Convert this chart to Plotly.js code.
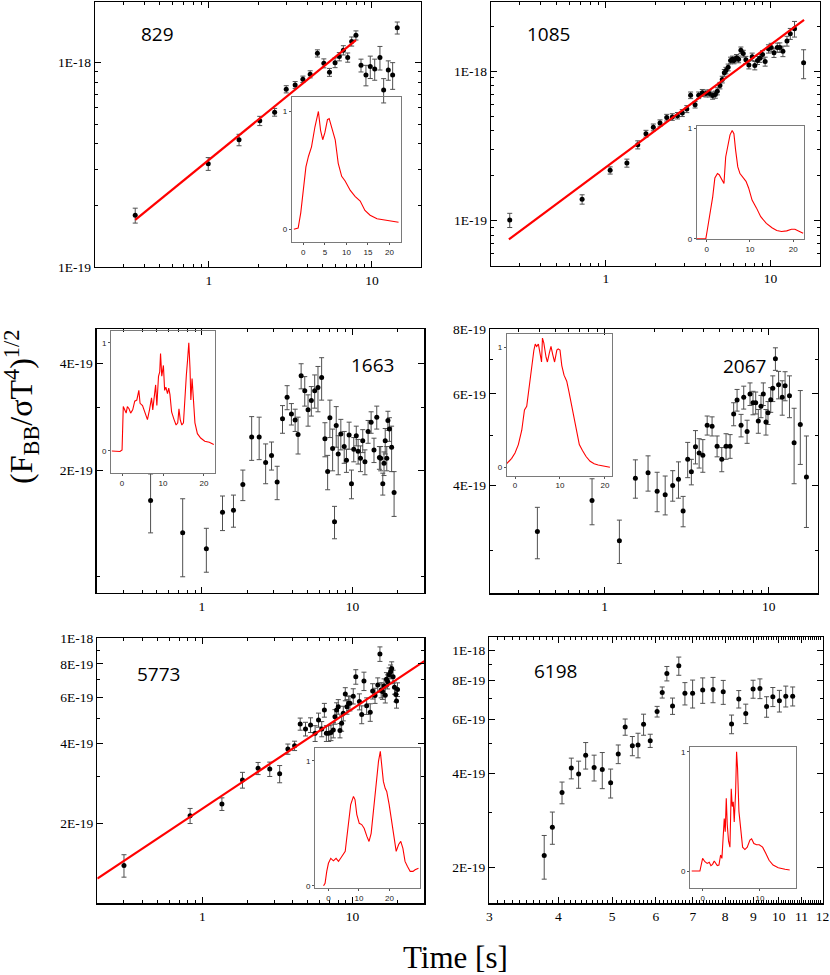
<!DOCTYPE html>
<html>
<head>
<meta charset="utf-8">
<script src="https://cdn.plot.ly/plotly-3.0.1.min.js"></script>
<style>html,body{margin:0;padding:0;background:#fff;}#chart{width:830px;height:975px;}</style>
</head>
<body>
<div id="chart"></div>
<script>
// ---- DATA (flux values in units of 1E-19) ----
const UNIT = 1e-19;
const labels = ["829", "1085", "1663", "2067", "5773", "6198"];

// 829
const t1 = [0.353,0.99,1.53,2.05,2.53,2.98,3.38,3.77,4.18,4.63,5.07,5.49,5.94,6.31,6.68,7.10,7.51,7.98,8.57,9.19,9.77,10.4,11.2,11.8,12.6,13.4,14.3];
const f1 = [1.79,3.20,4.19,5.19,5.72,7.41,7.78,8.29,8.77,11.1,9.93,8.97,10.0,10.7,11.5,10.6,12.7,13.6,9.7,8.7,9.56,9.3,10.6,7.35,9.2,8.7,14.8];
const e1 = [0.15,0.23,0.27,0.27,0.25,0.30,0.30,0.30,0.35,0.45,0.50,0.40,0.55,0.50,0.60,0.55,0.65,0.70,0.70,1.0,1.2,1.1,1.4,1.0,1.0,1.3,1.0];
const fitT1 = [0.353, 7.98];
const fitF1 = [1.70, 12.9];

// 1085
const t2 = [0.26,0.716,1.06,1.34,1.56,1.75,1.94,2.13,2.34,2.53,2.72,2.91,3.10,3.27,3.48,3.66,3.85,4.05,4.25,4.45,4.62,4.75,4.93,5.09,5.24,5.36,5.53,5.72,5.88,6.00,6.22,6.40,6.61,6.83,7.09,7.39,7.74,8.03,8.34,8.62,8.95,9.28,9.72,10.1,10.5,11.0,11.4,11.9,12.6,13.2,14.0,15.9];
const f2 = [1.01,1.39,2.17,2.43,3.22,3.82,4.21,4.50,4.89,4.94,5.04,5.25,5.58,6.90,5.97,6.90,7.16,7.10,7.10,6.87,6.97,7.34,8.01,8.79,9.75,10.1,10.6,11.8,12.0,11.8,12.3,12.0,13.8,13.1,11.9,11.0,12.5,10.9,11.8,12.2,12.9,11.6,14.1,14.4,13.3,14.4,14.4,13.6,15.9,17.8,19.2,11.4];
const e2 = [0.11,0.10,0.12,0.15,0.20,0.20,0.22,0.22,0.25,0.25,0.25,0.28,0.30,0.35,0.30,0.35,0.38,0.38,0.38,0.38,0.38,0.40,0.40,0.45,0.50,0.50,0.55,0.60,0.60,0.60,0.62,0.62,0.70,0.68,0.65,0.65,0.70,0.70,0.72,0.75,0.80,0.80,0.90,0.95,0.95,1.0,1.05,1.1,1.2,1.5,2.3,2.5];
const fitT2 = [0.257, 16.0];
const fitF2 = [0.75, 22.0];

// 1663
const t3 = [0.456,0.745,1.07,1.37,1.62,1.87,2.14,2.40,2.65,2.90,3.16,3.43,3.68,3.93,4.16,4.35,4.56,4.82,5.07,5.33,5.61,5.90,6.24,6.56,6.84,7.08,7.38,7.60,7.80,8.04,8.37,8.81,9.12,9.50,9.85,10.2,10.6,10.9,11.3,11.7,12.1,12.7,13.3,13.9,14.5,15.1,15.4,15.9,16.2,16.5,16.9,17.2,17.6,18.2,18.9];
const f3 = [1.64,1.33,1.20,1.52,1.54,1.82,2.48,2.48,2.10,2.20,1.85,2.79,3.21,2.88,2.77,2.52,3.69,3.35,2.96,3.14,3.35,3.42,3.65,2.45,1.98,2.81,2.30,1.43,2.67,2.22,2.53,2.33,2.13,2.51,1.83,2.29,2.50,2.26,2.16,2.42,2.11,2.57,2.73,2.28,2.82,2.17,2.16,1.83,2.09,2.42,2.16,2.76,2.61,2.32,1.73];
const e3 = [0.31,0.33,0.17,0.17,0.16,0.18,0.35,0.34,0.27,0.20,0.20,0.25,0.25,0.20,0.20,0.30,0.30,0.32,0.30,0.30,0.36,0.50,0.50,0.27,0.22,0.34,0.31,0.15,0.35,0.28,0.25,0.24,0.16,0.22,0.17,0.18,0.16,0.18,0.18,0.18,0.17,0.19,0.19,0.18,0.21,0.16,0.17,0.13,0.16,0.20,0.17,0.17,0.20,0.34,0.25];

// 2067
const t4 = [0.389,0.838,1.23,1.54,1.84,2.09,2.34,2.60,2.82,3.01,3.21,3.38,3.58,3.77,3.97,4.22,4.52,4.85,5.18,5.50,5.82,6.12,6.42,6.79,7.05,7.39,7.70,8.03,8.34,8.65,8.98,9.28,9.63,9.91,10.3,10.6,11.0,11.5,12.1,12.6,13.4,14.3,15.6,17.0];
const f4 = [3.26,3.74,3.13,4.13,4.23,3.90,3.84,4.00,4.11,3.57,4.49,4.25,4.75,4.62,4.57,5.22,5.20,4.76,4.49,4.76,4.76,5.49,5.84,5.22,5.91,5.08,6.00,5.77,5.77,5.32,5.68,6.00,5.30,5.52,5.85,6.15,7.01,6.25,5.91,6.22,5.95,4.83,5.24,4.15];
const e4 = [0.37,0.38,0.30,0.35,0.33,0.34,0.33,0.27,0.33,0.24,0.35,0.24,0.35,0.30,0.33,0.22,0.22,0.22,0.24,0.27,0.25,0.28,0.28,0.26,0.30,0.26,0.30,0.30,0.28,0.28,0.28,0.30,0.30,0.28,0.32,0.35,0.35,0.38,0.45,0.40,0.55,0.80,0.85,0.83];

// 5773
const t5 = [0.301,0.829,1.35,1.85,2.35,2.81,3.27,3.71,4.11,4.48,4.86,5.25,5.63,5.93,6.23,6.49,6.69,6.93,7.18,7.44,7.63,7.83,8.03,8.24,8.45,8.67,8.94,9.17,9.41,9.60,10.1,10.5,11.1,11.5,11.9,12.4,13.1,13.6,14.1,14.7,15.2,15.5,15.8,16.2,16.5,16.8,17.1,17.5,17.9,18.2,18.6,19.0,19.4,19.6,19.9];
const f5 = [1.39,2.14,2.37,2.92,3.23,3.21,3.08,3.82,3.93,4.75,4.55,4.71,4.38,4.92,4.55,5.36,4.38,4.38,4.41,4.51,5.06,5.36,5.52,4.49,4.78,5.21,6.16,5.52,5.69,5.69,6.05,7.16,5.77,5.16,6.90,5.56,5.26,6.32,6.08,6.67,8.73,6.38,6.30,6.61,6.10,7.00,6.86,7.28,7.48,7.70,7.16,6.53,6.14,5.80,6.41];
const e5 = [0.135,0.14,0.13,0.20,0.17,0.20,0.23,0.17,0.16,0.25,0.27,0.30,0.30,0.30,0.30,0.32,0.30,0.30,0.30,0.30,0.32,0.35,0.35,0.28,0.32,0.33,0.35,0.35,0.35,0.37,0.40,0.45,0.40,0.40,0.55,0.40,0.40,0.42,0.40,0.42,0.55,0.42,0.42,0.42,0.40,0.42,0.42,0.45,0.45,0.45,0.42,0.38,0.38,0.35,0.38];
const fitT5 = [0.2, 30];
const fitF5 = [1.24, 8.2];

// 6198
const t6 = [3.77,3.90,4.06,4.22,4.35,4.48,4.64,4.80,4.97,5.13,5.28,5.44,5.57,5.70,5.86,6.03,6.16,6.28,6.43,6.60,6.77,6.99,7.29,7.61,7.94,8.22,8.47,8.72,8.99,9.25,9.51,9.76,10.03,10.3,10.6];
const f6 = [2.18,2.69,3.48,4.17,3.99,4.59,4.19,4.13,3.74,4.63,5.66,4.92,4.95,5.77,5.11,6.34,7.31,8.41,6.61,8.90,7.26,7.26,7.44,7.47,7.34,5.78,6.96,6.25,7.50,7.53,6.58,7.08,6.87,7.11,7.11];
const e6 = [0.35,0.32,0.28,0.32,0.40,0.45,0.40,0.55,0.40,0.32,0.34,0.35,0.45,0.45,0.25,0.25,0.30,0.45,0.40,0.60,0.60,0.75,0.70,0.70,0.65,0.40,0.45,0.45,0.50,0.55,0.50,0.50,0.55,0.55,0.50];

// Inset light curves (time [s], normalized rate)
const lc1t = [-2.2,-1.2,-0.6,0,0.6,1.2,1.9,2.7,3.5,4.0,4.5,5.0,5.6,6.0,6.6,7.4,8.1,8.9,9.7,10.9,12.0,13.2,14.3,15.5,17.1,18.6,20.2,22.1];
const lc1y = [0,0.01,0.14,0.36,0.53,0.62,0.70,0.87,1.0,0.84,0.76,0.82,0.93,0.94,0.87,0.76,0.56,0.45,0.41,0.33,0.28,0.24,0.16,0.12,0.09,0.08,0.07,0.06];
const lc2t = [-2.3,-0.2,0.15,0.77,1.4,1.9,2.5,2.9,3.5,4.0,4.4,4.9,5.4,5.9,6.3,6.7,7.2,7.7,8.5,9.1,9.7,10.5,11.5,12.5,13.8,15.1,16.2,17.3,18.5,19.6,20.4,21.5,22.3];
const lc2y = [0,0,0.08,0.23,0.38,0.55,0.59,0.58,0.53,0.50,0.74,0.83,0.94,0.98,0.95,0.80,0.65,0.59,0.55,0.52,0.46,0.35,0.28,0.20,0.14,0.10,0.075,0.066,0.072,0.087,0.087,0.066,0.05];
const lc3t = [-2.5,-0.5,0,0.3,0.65,1.0,1.3,1.7,2.1,2.6,3.1,3.6,4.1,4.4,5.0,5.6,6.2,6.7,7.2,7.5,7.9,8.2,8.5,8.9,9.2,9.4,9.7,10.1,10.4,10.7,11.1,11.4,11.7,12.1,12.7,13.2,13.6,13.9,14.2,14.6,15.0,15.4,15.7,16.0,16.3,16.6,16.8,17.1,17.4,17.8,18.4,19.2,20.2,21.3,22.4];
const lc3y = [0,-0.005,0.01,0.41,0.38,0.35,0.41,0.39,0.35,0.38,0.46,0.47,0.56,0.44,0.42,0.36,0.29,0.38,0.49,0.38,0.51,0.61,0.42,0.69,0.73,0.90,0.69,0.79,0.56,0.59,0.53,0.58,0.52,0.36,0.29,0.24,0.26,0.39,0.29,0.24,0.26,0.56,0.70,0.84,1.0,0.76,0.47,0.67,0.44,0.26,0.16,0.12,0.09,0.08,0.06];
const lc4t = [-1.85,-1.26,-0.74,0,0.74,1.5,2.1,2.6,3.2,3.7,4.2,4.5,4.8,5.2,5.6,5.9,6.1,6.4,6.9,7.2,7.6,8.0,8.4,8.8,9.3,9.6,10.0,10.4,10.9,11.5,12.0,12.6,13.1,13.7,14.3,15.0,15.8,16.7,17.6,18.5,19.6,21.1];
const lc4y = [0.03,0.05,0.075,0.12,0.19,0.31,0.48,0.51,0.70,0.87,0.98,1.03,1.01,1.03,0.95,0.88,1.08,1.04,0.92,0.88,0.95,1.01,0.94,0.88,0.98,0.99,0.98,0.85,0.77,0.72,0.63,0.51,0.40,0.28,0.19,0.14,0.09,0.05,0.03,0.02,0.01,0.0];
const lc5t = [-1.6,-1.1,-0.55,0,0.77,1.64,2.5,3.3,4.0,4.9,5.5,6.0,6.6,7.3,8.2,8.7,9.3,10.1,10.9,11.7,12.6,13.3,14.0,14.5,15.1,15.6,16.4,17.0,17.4,18.0,18.6,19.1,19.9,20.8,21.5,22.2,23.0,23.7,24.4,25.1,25.9,26.8,27.7,28.4,29.5];
const lc5y = [0,0.02,0.115,0.18,0.22,0.20,0.22,0.195,0.22,0.25,0.275,0.38,0.51,0.65,0.715,0.69,0.57,0.50,0.49,0.46,0.395,0.355,0.42,0.54,0.70,0.86,0.995,1.075,0.97,0.835,0.78,0.755,0.65,0.49,0.38,0.275,0.33,0.355,0.30,0.195,0.155,0.115,0.115,0.128,0.14];
const lc6t = [-1.9,-0.47,0,0.4,0.8,1.16,1.45,1.74,2.03,2.27,2.56,2.85,3.14,3.37,3.6,3.78,3.95,4.13,4.3,4.53,4.77,5.0,5.17,5.35,5.52,5.76,5.93,6.1,6.34,6.63,6.98,7.38,7.79,8.26,8.55,8.95,9.42,9.88,10.47,11.0,11.6,12.3,13.2,14.4,15.2];
const lc6y = [0,0,0.106,0.078,0.064,0.073,0.045,0.056,0.084,0.064,0.045,0.05,0.134,0.106,0.27,0.44,0.33,0.61,0.39,0.25,0.20,0.69,0.54,0.58,0.41,0.66,1.0,0.86,0.50,0.33,0.20,0.18,0.20,0.26,0.27,0.23,0.22,0.22,0.20,0.15,0.09,0.05,0.028,0.014,0.008];

// Tick labels
const xTickVals = [1, 10];
const xTickText = ["1", "10"];
const x6TickVals = [3,4,5,6,7,8,9,10,11,12];
const x6TickText = ["3","4","5","6","7","8","9","10","11","12"];
const yTicks1 = {vals:[1e-19,1e-18], text:["1E-19","1E-18"]};
const yTicks2 = {vals:[1e-19,1e-18], text:["1E-19","1E-18"]};
const yTicks3 = {vals:[2e-19,4e-19], text:["2E-19","4E-19"]};
const yTicks4 = {vals:[4e-19,6e-19,8e-19], text:["4E-19","6E-19","8E-19"]};
const yTicks5 = {vals:[2e-19,4e-19,6e-19,8e-19,1e-18], text:["2E-19","4E-19","6E-19","8E-19","1E-18"]};
const yTicks6 = {vals:[2e-19,4e-19,6e-19,8e-19,1e-18], text:["2E-19","4E-19","6E-19","8E-19","1E-18"]};

// ---- LAYOUT HELPERS ----
const W = 830, H = 975;
const dx = (a, b) => [a / W, b / W];
const dy = (a, b) => [1 - b / H, 1 - a / H];

const yMinor = [];
for (let d = -21; d <= -16; d++) for (let m = 1; m <= 9; m++) yMinor.push(m * Math.pow(10, d));
const xMinor = [];
for (let d = -1; d <= 1; d++) for (let m = 1; m <= 9; m++) xMinor.push(m * Math.pow(10, d));
const x6Minor = [];
for (let i = 30; i <= 120; i++) x6Minor.push(i / 10);

const tickFont = {family: "Liberation Serif", size: 13.5, color: "black"};
function mainAxis(dom, range, tv, tt, minorVals, anchor) {
  return {
    type: "log", domain: dom, range: range, anchor: anchor,
    showline: true, linecolor: "black", linewidth: 1.3, mirror: "allticks",
    ticks: "inside", ticklen: 6, tickwidth: 1, tickcolor: "black",
    tickmode: "array", tickvals: tv, ticktext: tt,
    minor: {ticks: "inside", ticklen: 3, tickwidth: 1, tickcolor: "black", tickvals: minorVals},
    showgrid: false, zeroline: false, tickfont: tickFont
  };
}
const insetFont = {family: "Liberation Sans", size: 8, color: "#222"};
function insetAxis(dom, range, tv, anchor) {
  return {
    type: "linear", domain: dom, range: range, anchor: anchor,
    showline: true, linecolor: "#7a7a7a", linewidth: 1, mirror: true,
    ticks: "outside", ticklen: 2, tickwidth: 1, tickcolor: "#555",
    tickmode: "array", tickvals: tv, ticktext: tv.map(String),
    showgrid: false, zeroline: false, tickfont: insetFont
  };
}

const L = Math.log10;
const layout = {
  width: W, height: H, margin: {l: 0, r: 0, t: 0, b: 0},
  paper_bgcolor: "white", plot_bgcolor: "rgba(0,0,0,0)", showlegend: false,
  font: {family: "Liberation Serif", color: "black"},
  // main panels
  xaxis:  mainAxis(dx(95, 421),   [L(0.2), L(20)], xTickVals, xTickText, xMinor, "y"),
  yaxis:  mainAxis(dy(2, 267),    [L(1e-19), L(1.98e-18)], yTicks1.vals, yTicks1.text, yMinor, "x"),
  xaxis2: mainAxis(dx(491, 820),  [L(0.2), L(20)], xTickVals, xTickText, xMinor, "y2"),
  yaxis2: mainAxis(dy(2, 265.7),  [L(5e-20), L(2.9e-18)], yTicks2.vals, yTicks2.text, yMinor, "x2"),
  xaxis3: mainAxis(dx(96.7, 424.3), [L(0.2), L(30)], xTickVals, xTickText, xMinor, "y3"),
  yaxis3: mainAxis(dy(329, 593),  [L(9.0e-20), L(5e-19)], yTicks3.vals, yTicks3.text, yMinor, "x3"),
  xaxis4: mainAxis(dx(490, 818),  [L(0.2), L(20)], xTickVals, xTickText, xMinor, "y4"),
  yaxis4: mainAxis(dy(329, 593.3), [L(2.48e-19), L(8e-19)], yTicks4.vals, yTicks4.text, yMinor, "x4"),
  xaxis5: mainAxis(dx(97.3, 424.3), [L(0.2), L(30)], xTickVals, xTickText, xMinor, "y5"),
  yaxis5: mainAxis(dy(638.3, 903.3), [L(1e-19), L(1e-18)], yTicks5.vals, yTicks5.text, yMinor, "x5"),
  xaxis6: mainAxis(dx(489.3, 822.5), [L(3), L(12)], x6TickVals, x6TickText, x6Minor, "y6"),
  yaxis6: mainAxis(dy(637.3, 903.3), [L(1.53e-19), L(1.1e-18)], yTicks6.vals, yTicks6.text, yMinor, "x6"),
  // insets
  xaxis7:  insetAxis(dx(291.7, 400.7), [-2.7, 22.6], [0,5,10,15,20], "y7"),
  yaxis7:  insetAxis(dy(97.3, 242.3),  [-0.11, 1.12], [0,1], "x7"),
  xaxis8:  insetAxis(dx(696.7, 804),   [-2.3, 22.5], [0,10,20], "y8"),
  yaxis8:  insetAxis(dy(126, 239.3),   [-0.004, 1.02], [0,1], "x8"),
  xaxis9:  insetAxis(dx(111, 215),     [-2.7, 22.7], [0,10,20], "y9"),
  yaxis9:  insetAxis(dy(331, 473.3),   [-0.206, 1.108], [0,1], "x9"),
  xaxis10: insetAxis(dx(506.7, 611.7), [-1.85, 21.5], [0,10,20], "y10"),
  yaxis10: insetAxis(dy(334, 475.7),   [-0.07, 1.114], [0,1], "x10"),
  xaxis11: insetAxis(dx(315, 420),     [-4.4, 30], [0,10,20], "y11"),
  yaxis11: insetAxis(dy(748.3, 888.3), [-0.02, 1.10], [0,1], "x11"),
  xaxis12: insetAxis(dx(690, 796),     [-2.2, 16.3], [0,10], "y12"),
  yaxis12: insetAxis(dy(746.7, 888.3), [-0.145, 1.042], [0,1], "x12"),
  annotations: [
    {text: labels[0], x: 157.5 / W, y: 1 - 34 / H},
    {text: labels[1], x: 548.5 / W, y: 1 - 34.5 / H},
    {text: labels[2], x: 372 / W, y: 1 - 365 / H},
    {text: labels[3], x: 744 / W, y: 1 - 365.5 / H},
    {text: labels[4], x: 158.5 / W, y: 1 - 674 / H},
    {text: labels[5], x: 555.5 / W, y: 1 - 670.5 / H}
  ].map(a => Object.assign(a, {xref: "paper", yref: "paper", showarrow: false, xanchor: "center", yanchor: "middle",
        font: {family: "Open Sans", size: 19, color: "black"}})).concat([
    {text: "(F<sub>BB</sub>/σT<sup>4</sup>)<sup>1/2</sup>", x: 22 / W, y: 1 - 407 / H, xref: "paper", yref: "paper",
     showarrow: false, textangle: -90, xanchor: "center", yanchor: "middle",
     font: {family: "Liberation Serif", size: 32, color: "black"}},
    {text: "Time [s]", x: 455 / W, y: 1 - 957 / H, xref: "paper", yref: "paper",
     showarrow: false, xanchor: "center", yanchor: "middle",
     font: {family: "Liberation Serif", size: 31, color: "black"}}
  ])
};

// ---- TRACES ----
const sets = [[t1,f1,e1],[t2,f2,e2],[t3,f3,e3],[t4,f4,e4],[t5,f5,e5],[t6,f6,e6]];
const traces = [];
sets.forEach((s, i) => {
  const n = i === 0 ? "" : String(i + 1);
  traces.push({
    type: "scatter", mode: "markers", x: s[0], y: s[1].map(v => v * UNIT),
    error_y: {type: "data", array: s[2].map(v => v * UNIT), visible: true, color: "#505050", thickness: 1, width: 2.5},
    marker: {color: "black", size: 5}, xaxis: "x" + n, yaxis: "y" + n, hoverinfo: "skip"
  });
});
[[fitT1, fitF1, ""], [fitT2, fitF2, "2"], [fitT5, fitF5, "5"]].forEach(f => {
  traces.push({type: "scatter", mode: "lines", x: f[0], y: f[1].map(v => v * UNIT),
    line: {color: "#ff0000", width: 2.2}, xaxis: "x" + f[2], yaxis: "y" + f[2], hoverinfo: "skip"});
});
[[lc1t, lc1y], [lc2t, lc2y], [lc3t, lc3y], [lc4t, lc4y], [lc5t, lc5y], [lc6t, lc6y]].forEach((c, i) => {
  const n = String(i + 7);
  traces.push({type: "scatter", mode: "lines", x: c[0], y: c[1],
    line: {color: "#ff0000", width: 1.1}, xaxis: "x" + n, yaxis: "y" + n, hoverinfo: "skip"});
});

Plotly.newPlot("chart", traces, layout, {staticPlot: true, displayModeBar: false});
</script>
</body>
</html>
